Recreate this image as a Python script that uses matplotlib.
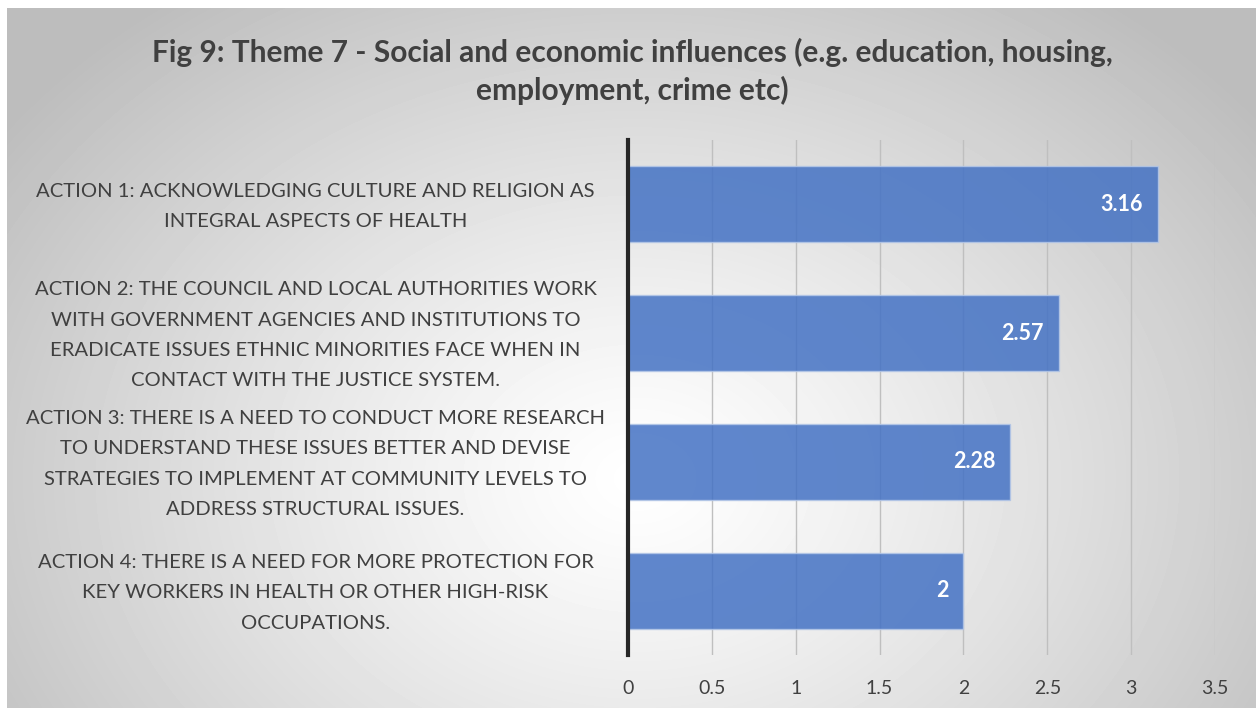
import matplotlib.pyplot as plt
import matplotlib.transforms as mtransforms
import numpy as np

plt.rcParams['font.family'] = ['Lato', 'DejaVu Sans']

labels = [
    "ACTION 1: ACKNOWLEDGING CULTURE AND RELIGION AS\nINTEGRAL ASPECTS OF HEALTH",
    "ACTION 2: THE COUNCIL AND LOCAL AUTHORITIES WORK\nWITH GOVERNMENT AGENCIES AND INSTITUTIONS TO\n"
    "ERADICATE ISSUES ETHNIC MINORITIES FACE WHEN IN\nCONTACT WITH THE JUSTICE SYSTEM.",
    "ACTION 3: THERE IS A NEED TO CONDUCT MORE RESEARCH\nTO UNDERSTAND THESE ISSUES BETTER AND DEVISE\n"
    "STRATEGIES TO IMPLEMENT AT COMMUNITY LEVELS TO\nADDRESS STRUCTURAL ISSUES.",
    "ACTION 4: THERE IS A NEED FOR MORE PROTECTION FOR\nKEY WORKERS IN HEALTH OR OTHER HIGH-RISK\nOCCUPATIONS.",
]
values = [3.16, 2.57, 2.28, 2]
xticks = [0, 0.5, 1, 1.5, 2, 2.5, 3, 3.5]

W, H = 1259, 711
fig = plt.figure(figsize=(W / 100, H / 100), dpi=100)
fig.patch.set_facecolor('white')

# radial grey-to-white background panel
bg = fig.add_axes([7 / W, 1 - 708 / H, (1256 - 7) / W, (708 - 8) / H])
yy, xx = np.mgrid[0:700, 0:1249]
cx, cy = 630, 470
r = np.sqrt(((xx - cx) / 780.0) ** 2 + ((yy - cy) / 600.0) ** 2)
r = np.clip(r, 0, 1)
shade = 1.0 - 0.26 * r ** 1.2
bg.imshow(shade, cmap='gray', vmin=0, vmax=1, aspect='auto', interpolation='bilinear')
bg.axis('off')

ax = fig.add_axes([628 / W, 1 - 655 / H, 587 / W, 515 / H])
ax.patch.set_alpha(0)

y = np.arange(len(values))
bars = ax.barh(y, values, height=0.59, color='#4472C4', alpha=0.85,
               edgecolor='#B4C7E7', linewidth=1, zorder=3)
ax.set_ylim(len(values) - 0.5, -0.5)
ax.set_xlim(0, 3.5)
ax.set_xticks(xticks)
ax.set_xticklabels([f"{t:g}" for t in xticks], fontsize=14, color='#404040')
ax.set_yticks(y)
ax.set_yticklabels(labels, fontsize=14.6, color='#404040', ha='center', linespacing=1.95)
ax.tick_params(axis='y', length=0, pad=225)
ax.tick_params(axis='x', length=0, pad=18)

# nudge the category labels up a little
shift = mtransforms.ScaledTranslation(0, 6 / 100, fig.dpi_scale_trans)
for lbl in ax.get_yticklabels():
    lbl.set_transform(lbl.get_transform() + shift)

ax.grid(axis='x', color='#BFBFBF', linewidth=1, zorder=0)
for s in ['top', 'right', 'bottom']:
    ax.spines[s].set_visible(False)
ax.spines['left'].set_color('#262626')
ax.spines['left'].set_linewidth(3)
ax.spines['left'].set_zorder(4)

for b, v in zip(bars, values):
    ax.text(v - 0.09, b.get_y() + b.get_height() / 2, f"{v:g}", ha='right', va='center',
            color='white', fontsize=15.5, fontweight='bold', zorder=5)

fig.text(632 / W, 1 - 52 / H, "Fig 9: Theme 7 - Social and economic influences (e.g. education, housing,",
         ha='center', va='center', fontsize=21.5, fontweight='bold', color='#404040')
fig.text(632 / W, 1 - 90 / H, "employment, crime etc)",
         ha='center', va='center', fontsize=21.5, fontweight='bold', color='#404040')

fig.savefig('out.png', dpi=100)
